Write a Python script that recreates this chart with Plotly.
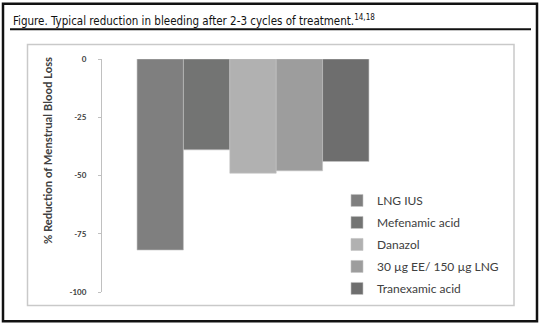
import plotly.graph_objects as go

treatments = ["LNG IUS", "Mefenamic acid", "Danazol", "30 µg EE/ 150 µg LNG", "Tranexamic acid"]
reduction = [-82, -39, -49, -48, -44]
colors = ["#7f7f7f", "#737473", "#b1b1b1", "#9d9d9d", "#6e6e6e"]
y_ticks = [0, -25, -50, -75, -100]
y_tick_text = ["0", "-25", "-50", "-75", "-100"]
y_title = "% Reduction of Menstrual Blood Loss"
fig_title = "Figure. Typical reduction in bleeding after 2-3 cycles of treatment.<sup>14,18</sup>"

W, H = 543, 327
L, R, T, B = 102, 404, 58.5, 292.5


def px(x):
    return (x - L) / (R - L)


def py(y):
    return (B - y) / (B - T)


fig = go.Figure()
for name, val, col in zip(treatments, reduction, colors):
    fig.add_trace(go.Bar(
        x=[""], y=[val], name=name, legendgroup=name,
        marker=dict(color=col, line=dict(color="#c4c4c4", width=0.6)),
    ))

fig.update_layout(
    width=W, height=H,
    margin=dict(l=L, r=W - R, t=T, b=H - B, pad=0),
    paper_bgcolor="white", plot_bgcolor="white",
    barmode="group", bargap=0.232, bargroupgap=0,
    showlegend=True,
    legend=dict(
        x=px(337), y=py(186), xanchor="left", yanchor="top",
        font=dict(family="Lato, Calibri, sans-serif", size=12, color="#404040"),
        tracegroupgap=3, bgcolor="rgba(0,0,0,0)", itemwidth=30,
    ),
    xaxis=dict(visible=False),
    yaxis=dict(
        range=[-100, 0], tickvals=y_ticks, ticktext=y_tick_text,
        showgrid=False, zeroline=False,
        showline=True, linecolor="#c0c0c0", linewidth=1,
        ticks="outside", ticklen=3, tickcolor="#c0c0c0",
        ticklabelstandoff=10,
        tickfont=dict(family="Lato, Calibri, sans-serif", size=8, color="#404040", weight="bold"),
    ),
    shapes=[
        dict(type="rect", xref="paper", yref="paper", x0=px(3), x1=px(537), y0=py(3), y1=py(322),
             line=dict(color="#111111", width=2.5)),
        dict(type="line", xref="paper", yref="paper", x0=px(10), x1=px(531), y0=py(28.5), y1=py(28.5),
             line=dict(color="#111111", width=2)),
        dict(type="rect", xref="paper", yref="paper", x0=px(27.5), x1=px(514), y0=py(44), y1=py(306),
             line=dict(color="#c9c9c9", width=1.5)),
    ],
    annotations=[
        dict(text=fig_title, xref="paper", yref="paper", x=px(11), y=py(19.5),
             xanchor="left", yanchor="middle", showarrow=False,
             font=dict(family="DejaVu Sans Condensed, sans-serif", size=11.5, color="#111111")),
        dict(text=y_title, xref="paper", yref="paper", x=px(47), y=py(151), textangle=-90,
             xanchor="center", yanchor="middle", showarrow=False,
             font=dict(family="Lato, Calibri, sans-serif", size=11.3, color="#404040", weight="bold")),
    ],
)

fig.write_html("out.html")
